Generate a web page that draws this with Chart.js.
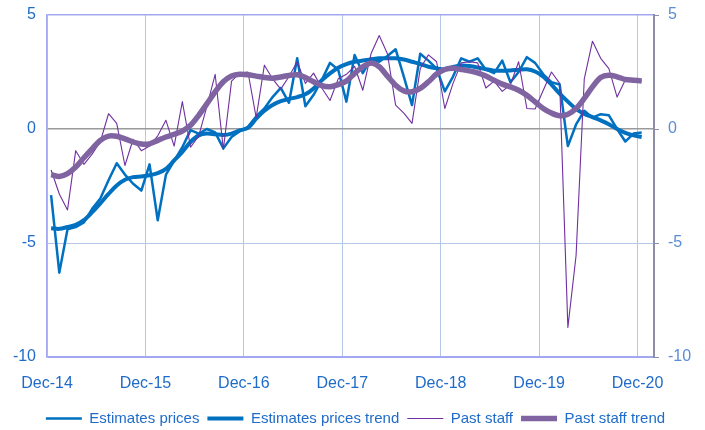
<!DOCTYPE html>
<html>
<head>
<meta charset="utf-8">
<script src="https://cdn.jsdelivr.net/npm/chart.js@4/dist/chart.umd.min.js"></script>
<style>
  html, body { margin: 0; padding: 0; background: #fff; }
  #wrap { width: 705px; height: 430px; }
</style>
</head>
<body>
<div id="wrap"><canvas id="chart" width="705" height="430"></canvas></div>
<script>
// monthly, Dec-14 .. Dec-20 (73 points); one empty slot (Jan-21) at the end of the axis
const xTickLabels = ["Dec-14", "Dec-15", "Dec-16", "Dec-17", "Dec-18", "Dec-19", "Dec-20"]
const yTicks = [5, 0, -5, -10]

const estimatesPrices = [
  -2.9, -6.3, -4.4, -4.3, -4.1, -3.5, -3.05, -2.25, -1.5, -2.0, -2.4, -2.7,
  -1.55, -4.0, -2.0, -1.4, -0.8, -0.05, -0.2, 0.0, -0.15, -0.85, -0.35, -0.1,
  0.1, 0.55, 0.9, 1.4, 1.8, 1.15, 3.1, 1.0, 1.5, 2.15, 2.9, 2.6,
  1.2, 3.25, 2.45, 3.1, 2.95, 3.2, 3.5, 2.3, 1.05, 3.3, 3.0, 2.65,
  1.65, 2.3, 3.1, 2.95, 3.1, 2.6, 2.45, 3.0, 2.05, 2.5, 3.15, 2.9,
  2.4, 2.05, 1.95, -0.75, 0.2, 0.8, 0.5, 0.65, 0.6, 0.0, -0.55, -0.2,
  -0.15,
]
const estimatesTrend = [
  -4.35, -4.38, -4.3, -4.2, -4.0, -3.65, -3.26, -2.85, -2.48, -2.23, -2.11, -2.08,
  -2.03, -1.94, -1.75, -1.38, -1.0, -0.57, -0.28, -0.2, -0.23, -0.26, -0.2, -0.06,
  0.05, 0.45, 0.8, 1.05, 1.22, 1.32, 1.4, 1.52, 1.78, 2.14, 2.44, 2.69,
  2.85, 2.95, 3.0, 3.05, 3.1, 3.1, 3.1, 3.05, 2.95, 2.85, 2.73, 2.66,
  2.62, 2.72, 2.78, 2.76, 2.7, 2.62, 2.56, 2.55, 2.57, 2.6, 2.62, 2.52,
  2.3, 1.95, 1.55, 1.2, 0.88, 0.66, 0.52, 0.38, 0.21, 0.0, -0.17, -0.28,
  -0.35,
]
const pastStaff = [
  -1.8, -2.85, -3.55, -0.95, -1.55, -1.1, -0.55, 0.67, 0.25, -1.6, -0.45, -0.95,
  -0.75, -0.3, 0.38, -0.75, 1.2, -0.8, -0.3, 1.0, 2.4, -0.9, 2.1, 2.45,
  2.5, 0.5, 2.8, 2.2, 1.75, 2.3, 2.95, 2.0, 2.45, 1.8, 1.25, 2.2,
  2.4, 2.75, 1.7, 3.3, 4.1, 3.3, 1.05, 0.7, 0.25, 2.65, 3.25, 2.95,
  0.9, 2.0, 2.9, 2.95, 2.9, 1.8, 2.1, 1.65, 1.95, 2.95, 0.9, 0.88,
  1.7, 2.5, 2.0, -8.7, -5.55, 2.2, 3.85, 3.1, 2.65, 1.4, 2.15, 2.2,
  2.1,
]
const pastStaffTrend = [
  -2.0, -2.08, -1.96, -1.67, -1.26, -0.87, -0.5, -0.31, -0.32, -0.43, -0.57, -0.66,
  -0.65, -0.5, -0.35, -0.23, -0.09, 0.16, 0.6, 1.11, 1.63, 2.07, 2.32, 2.4,
  2.38, 2.32, 2.26, 2.23, 2.28, 2.35, 2.38, 2.26, 2.07, 1.9, 1.85, 1.95,
  2.1, 2.44, 2.73, 2.9, 2.73, 2.32, 1.92, 1.67, 1.63, 1.78, 2.07, 2.41,
  2.61, 2.66, 2.61, 2.55, 2.46, 2.32, 2.14, 1.97, 1.85, 1.7, 1.48, 1.19,
  0.9, 0.7, 0.58, 0.65, 0.9, 1.34, 1.85, 2.26, 2.36, 2.29, 2.17, 2.14,
  2.11,
]

const FONT = "'Liberation Sans', Arial, sans-serif"
const BLUE_TXT = "#1f6bc9"

// points sit in the middle of each month slot
function toPoints(arr) {
  return arr.map((v, i) => ({ x: i + 0.5, y: v }))
}

function lineSet(label, arr, color, width, tension, order) {
  return {
    label,
    data: toPoints(arr),
    borderColor: color,
    backgroundColor: color,
    borderWidth: width,
    pointRadius: 0,
    tension,
    order,
    borderJoinStyle: "round",
  }
}

const datasets = [
  lineSet("Estimates prices", estimatesPrices, "#0070c0", 2.5, 0, 3),
  lineSet("Estimates prices trend", estimatesTrend, "#0070c0", 4, 0.3, 2),
  lineSet("Past staff", pastStaff, "#7030a0", 1.1, 0, 1),
  lineSet("Past staff trend", pastStaffTrend, "#8064a2", 5.5, 0.3, 0),
]

// keep the plot box where the reference has it (no extra room for the top/bottom labels)
function fitY(width) {
  return (s) => {
    s.width = width
    s.paddingTop = 0
    s.paddingBottom = 0
  }
}

new Chart(document.getElementById("chart"), {
  type: "line",
  data: { datasets },
  options: {
    responsive: false,
    animation: false,
    layout: { padding: { top: 15, left: 6, right: 0, bottom: -6 } },
    plugins: {
      tooltip: { enabled: false },
      legend: {
        position: "bottom",
        labels: {
          font: { family: FONT, size: 15 },
          color: BLUE_TXT,
          boxWidth: 36,
          boxHeight: 0,
          padding: 8,
          generateLabels: (chart) =>
            chart.data.datasets.map((ds, i) => ({
              text: ds.label,
              fillStyle: ds.borderColor,
              strokeStyle: ds.borderColor,
              lineWidth: ds.borderWidth,
              lineCap: "butt",
              fontColor: BLUE_TXT,
              datasetIndex: i,
            })),
        },
      },
    },
    scales: {
      x: {
        type: "linear",
        min: 0,
        max: 74,
        afterBuildTicks: (s) => {
          s.ticks = xTickLabels.map((_, i) => ({ value: i * 12 }))
        },
        afterFit: (s) => { s.height = 46 },
        ticks: {
          font: { family: FONT, size: 16 },
          color: BLUE_TXT,
          padding: 17,
          maxRotation: 0,
          autoSkip: false,
          callback: (v) => xTickLabels[v / 12],
        },
        grid: { color: "#b4c7e7", drawTicks: false },
        border: { color: "#a3a8f0", width: 1.5 },
      },
      y: {
        position: "left",
        min: -10,
        max: 5,
        afterBuildTicks: (s) => { s.ticks = yTicks.map((v) => ({ value: v })) },
        afterFit: fitY(41),
        ticks: { font: { family: FONT, size: 16 }, color: BLUE_TXT, padding: 11 },
        grid: {
          drawTicks: false,
          color: (c) => {
            const v = c.tick && c.tick.value
            if (v === 0) return "#9a9a9a"
            if (v === 5 || v === -10) return "#a3a8f0"
            return "#b4c7e7"
          },
          lineWidth: (c) => (c.tick && (c.tick.value === 0 || c.tick.value === 5) ? 1.5 : 1),
        },
        border: { color: "#a3a8f0", width: 1.5 },
      },
      y2: {
        position: "right",
        min: -10,
        max: 5,
        afterBuildTicks: (s) => { s.ticks = yTicks.map((v) => ({ value: v })) },
        afterFit: fitY(51),
        ticks: { font: { family: FONT, size: 16 }, color: "#5b8dd6", padding: 9 },
        grid: { drawOnChartArea: false, tickLength: 5, color: "#8e8ea6" },
        border: { color: "#8e8ea6", width: 2 },
      },
    },
  },
})
</script>
</body>
</html>
